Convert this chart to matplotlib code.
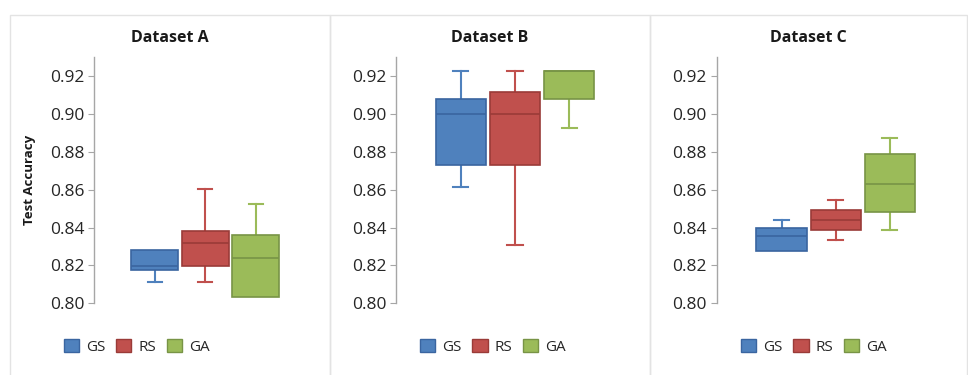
import numpy as np
import matplotlib.pyplot as plt
from matplotlib.patches import Patch, Rectangle

plt.rcParams['font.family'] = ['Open Sans', 'DejaVu Sans']

# Dados (mínimo, Q1, mediana, Q3, máximo)
metodos = ['GS', 'RS', 'GA']
datasets = ['Dataset A', 'Dataset B', 'Dataset C']

minimos = [[0.8114, 0.8114, 0.8035],
           [0.8613, 0.8306, 0.8924],
           [0.8277, 0.8334, 0.8386]]
q1 = [[0.8176, 0.8198, 0.8035],
      [0.8729, 0.8729, 0.9077],
      [0.8277, 0.8386, 0.8481]]
medianas = [[0.8198, 0.8319, 0.8237],
            [0.9000, 0.9000, 0.9230],
            [0.8358, 0.8441, 0.8629]]
q3 = [[0.8281, 0.8383, 0.8360],
      [0.9077, 0.9115, 0.9230],
      [0.8400, 0.8492, 0.8789]]
maximos = [[0.8281, 0.8606, 0.8525],
           [0.9230, 0.9230, 0.9230],
           [0.8439, 0.8546, 0.8871]]

yticks = [0.80, 0.82, 0.84, 0.86, 0.88, 0.90, 0.92]

cores = ['#4F81BD', '#C0504D', '#9BBB59']
bordas = ['#3A65A0', '#9A3B38', '#789446']

W, H = 968, 375
fig = plt.figure(figsize=(W / 100, H / 100), dpi=100)

# Molduras dos painéis (em pixels)
molduras = [(10, 330), (330, 650), (650, 967)]
for x0, x1 in molduras:
    fig.patches.append(Rectangle((x0 / W, -0.01), (x1 - x0) / W, 1 - 15 / H + 0.01,
                                 transform=fig.transFigure, fill=False,
                                 edgecolor='#e3e3e3', linewidth=1.0))

# Posição dos eixos (esquerda, largura em pixels)
eixos_px = [(94.3, 222), (396, 238), (716.7, 238)]
legenda_x = [136.5, 493, 814]
y_base = 1 - 303.3 / H
y_alt = (303.3 - 57.3) / H

for i in range(3):
    esq, larg = eixos_px[i]
    ax = fig.add_axes([esq / W, y_base, larg / W, y_alt])

    stats = []
    for j in range(3):
        stats.append({'whislo': minimos[i][j], 'q1': q1[i][j], 'med': medianas[i][j],
                      'q3': q3[i][j], 'whishi': maximos[i][j], 'fliers': []})

    bp = ax.bxp(stats, positions=[1, 2, 3], widths=0.93, patch_artist=True,
                showfliers=False, capwidths=0.28)
    for j in range(3):
        bp['boxes'][j].set_facecolor(cores[j])
        bp['boxes'][j].set_edgecolor(bordas[j])
        bp['boxes'][j].set_linewidth(1.2)
        bp['boxes'][j].set_zorder(3)
        bp['medians'][j].set_color(bordas[j])
        bp['medians'][j].set_linewidth(1.2)
        bp['medians'][j].set_zorder(4)
        for k in (2 * j, 2 * j + 1):
            bp['whiskers'][k].set_color(cores[j])
            bp['whiskers'][k].set_linewidth(1.5)
            bp['caps'][k].set_color(cores[j])
            bp['caps'][k].set_linewidth(1.5)
        # sem bigode quando coincide com o quartil
        if minimos[i][j] == q1[i][j]:
            bp['caps'][2 * j].set_visible(False)
        if maximos[i][j] == q3[i][j]:
            bp['caps'][2 * j + 1].set_visible(False)

    ax.set_xlim(-0.2, 4.2)
    ax.set_ylim(0.80, 0.93)
    ax.set_yticks(yticks)
    ax.set_yticklabels([f'{v:.2f}' for v in yticks])
    ax.set_xticks([])
    for lado in ['top', 'right', 'bottom']:
        ax.spines[lado].set_visible(False)
    ax.spines['left'].set_color('#a6a6a6')
    ax.spines['left'].set_linewidth(1.0)
    ax.tick_params(axis='y', length=4, color='#a6a6a6', labelsize=12.5,
                   labelcolor='#262626', pad=3)
    ax.patch.set_alpha(0)

    x0, x1 = molduras[i]
    fig.text((x0 + x1) / 2 / W, 1 - 38 / H, datasets[i], ha='center', va='center',
             fontsize=11.5, fontweight='bold', color='#1a1a1a')

    alcas = [Patch(facecolor=cores[j], edgecolor=bordas[j], label=metodos[j])
             for j in range(3)]
    ax.legend(handles=alcas, loc='center', bbox_to_anchor=(legenda_x[i] / W, 1 - 346.7 / H),
              bbox_transform=fig.transFigure, ncol=3, frameon=False, fontsize=11,
              handlelength=1.0, handleheight=1.0, handletextpad=0.45,
              columnspacing=0.7, labelcolor='#262626')

fig.text(29 / W, 1 - 180 / H, 'Test Accuracy', rotation=90, ha='center', va='center',
         fontsize=9.5, fontweight='bold', color='#1a1a1a')

plt.savefig('out.png', dpi=100)
